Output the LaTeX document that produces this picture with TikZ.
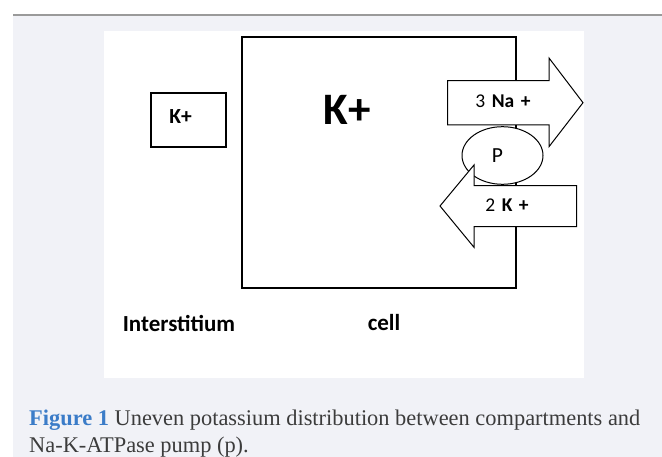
\documentclass[tikz,border=0pt]{standalone}
\usepackage{fontspec}
\setmainfont{Carlito}
\newfontfamily\capfont{Liberation Serif}
\usepackage{xcolor}
\usetikzlibrary{positioning,shapes.geometric}
\definecolor{pagegray}{HTML}{F1F2F7}
\definecolor{rulegray}{HTML}{9A9A9A}
\definecolor{figblue}{HTML}{3B7CC8}
\definecolor{captext}{HTML}{3C3C3C}

\begin{document}
\begin{tikzpicture}[
  x=1pt, y=-1pt,
  box/.style={draw, line width=1.3pt, inner sep=0pt},
  lbl/.style={font=\fontsize{#1}{#1}\selectfont\bfseries, inner sep=0pt},
  pump/.style={draw, line width=1pt, fill=white, line join=miter},
  captxt/.style={font=\capfont\fontsize{22.4}{22.4}\selectfont, text=captext,
    inner sep=0pt, anchor=base west},
]
\useasboundingbox (0,0) rectangle (662,457);

%--- PAGE ---
\fill[pagegray] (13,16) rectangle (662,457);
\draw[rulegray, line width=1.2pt] (13,15) -- (662,15);
\fill[white] (104,31) rectangle (584,378);

%--- CELL ---
\node[box, minimum width=274pt, minimum height=251pt] (cell) at (379,162.5) {};
\node[lbl=45] (kin) at (347.5,110) {K+};

%--- INTERSTITIAL K+ ---
\node[box, line width=1.1pt, minimum width=75pt, minimum height=54pt] (kbox) at (188.5,120) {};
\node[lbl=21.5] (kout) at ([xshift=-8pt,yshift=3pt]kbox.center) {K+};

%--- PUMP ---
\node[pump, ellipse, minimum width=81pt, minimum height=57.6pt, inner sep=0pt]
  (P) at (502.5,155.5) {};
\node[font=\fontsize{21.5}{21.5}\selectfont, inner sep=0pt] (Plbl)
  at ([xshift=-5pt]P.center) {P};

%--- ARROWS ---
\draw[pump] (447.7,80.7) -- (549,80.7) -- (549,58) -- (583,102.7)
  -- (549,146.7) -- (549,125) -- (447.7,125) -- cycle;
\node[font=\fontsize{19.5}{19.5}\selectfont, inner sep=0pt] (na) at (503,101)
  {3\,\,\textbf{Na\,\,+}};
\draw[pump] (576.7,185.7) -- (474,185.7) -- (474,165) -- (440,206)
  -- (474,247.3) -- (474,226.7) -- (576.7,226.7) -- cycle;
\node[font=\fontsize{19.5}{19.5}\selectfont, inner sep=0pt] (kk) at (507,205)
  {2\,\,\textbf{K\,\,+}};

%--- COMPARTMENT NAMES ---
\node[lbl=23] (inter) at (179,323) {Interstitium};
\node[lbl=23] (cname) at (384,323) {cell};

%--- CAPTION ---
\node[captxt] (cap1) at (29,425)
  {\textcolor{figblue}{\bfseries Figure 1} Uneven potassium distribution between compartments and};
\node[captxt] (cap2) at (29,452) {Na-K-ATPase pump (p).};
\end{tikzpicture}
\end{document}
